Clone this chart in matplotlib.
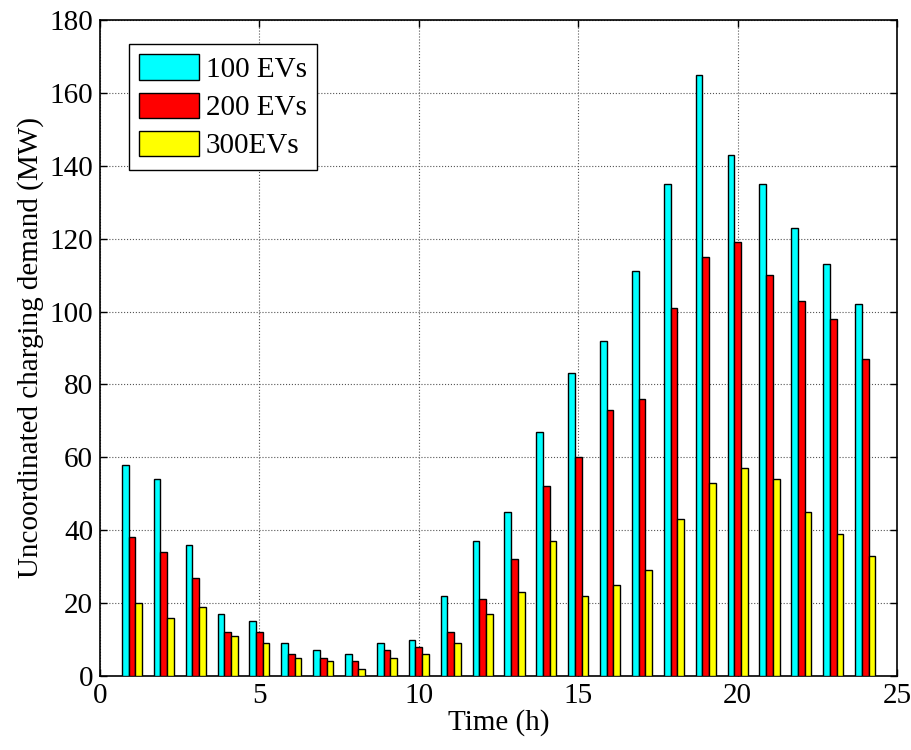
import numpy as np
import matplotlib
matplotlib.use('Agg')
import matplotlib.pyplot as plt

plt.rcParams['font.family'] = 'Liberation Serif'

hours = np.arange(1, 25)
ev100 = [58, 54, 36, 17, 15, 9, 7, 6, 9, 10, 22, 37, 45, 67, 83, 92, 111, 135, 165, 143, 135, 123, 113, 102]
ev200 = [38, 34, 27, 12, 12, 6, 5, 4, 7, 8, 12, 21, 32, 52, 60, 73, 76, 101, 115, 119, 110, 103, 98, 87]
ev300 = [20, 16, 19, 11, 9, 5, 4, 2, 5, 6, 9, 17, 23, 37, 22, 25, 29, 43, 53, 57, 54, 45, 39, 33]
labels = ['100 EVs', '200 EVs', '300EVs']
colors = ['#00ffff', '#ff0000', '#ffff00']

fig = plt.figure(figsize=(9.11, 7.5), dpi=100)
ax = fig.add_axes([0.1098, 0.0987, 0.8749, 0.8747])

w = 0.21
for k, (vals, lab, c) in enumerate(zip([ev100, ev200, ev300], labels, colors)):
    ax.bar(hours + (k - 1) * w, vals, width=w, color=c, edgecolor='black',
           linewidth=1.0, label=lab, zorder=3)

ax.set_xlim(0, 25)
ax.set_ylim(0, 180)
ax.set_xticks(range(0, 26, 5))
ax.set_yticks(range(0, 181, 20))
ax.tick_params(direction='in', top=True, right=True, labelsize=21, length=5, width=1, pad=5)
ax.grid(True, color='#555555', linestyle=':', linewidth=0.8, zorder=0)
ax.set_axisbelow(True)
for s in ax.spines.values():
    s.set_linewidth(1.2)

ax.set_xlabel('Time (h)', fontsize=21, labelpad=0)
ax.set_ylabel('Uncoordinated charging demand (MW)', fontsize=21, labelpad=4)

leg = ax.legend(loc='upper left', bbox_to_anchor=(0.036, 0.963), fontsize=21,
                fancybox=False, edgecolor='black', framealpha=1,
                handlelength=2.05, handleheight=0.95, handletextpad=0.25,
                labelspacing=0.33, borderpad=0.35, borderaxespad=0.0)
leg.get_frame().set_linewidth(1.0)

fig.savefig('out.png', dpi=100)
